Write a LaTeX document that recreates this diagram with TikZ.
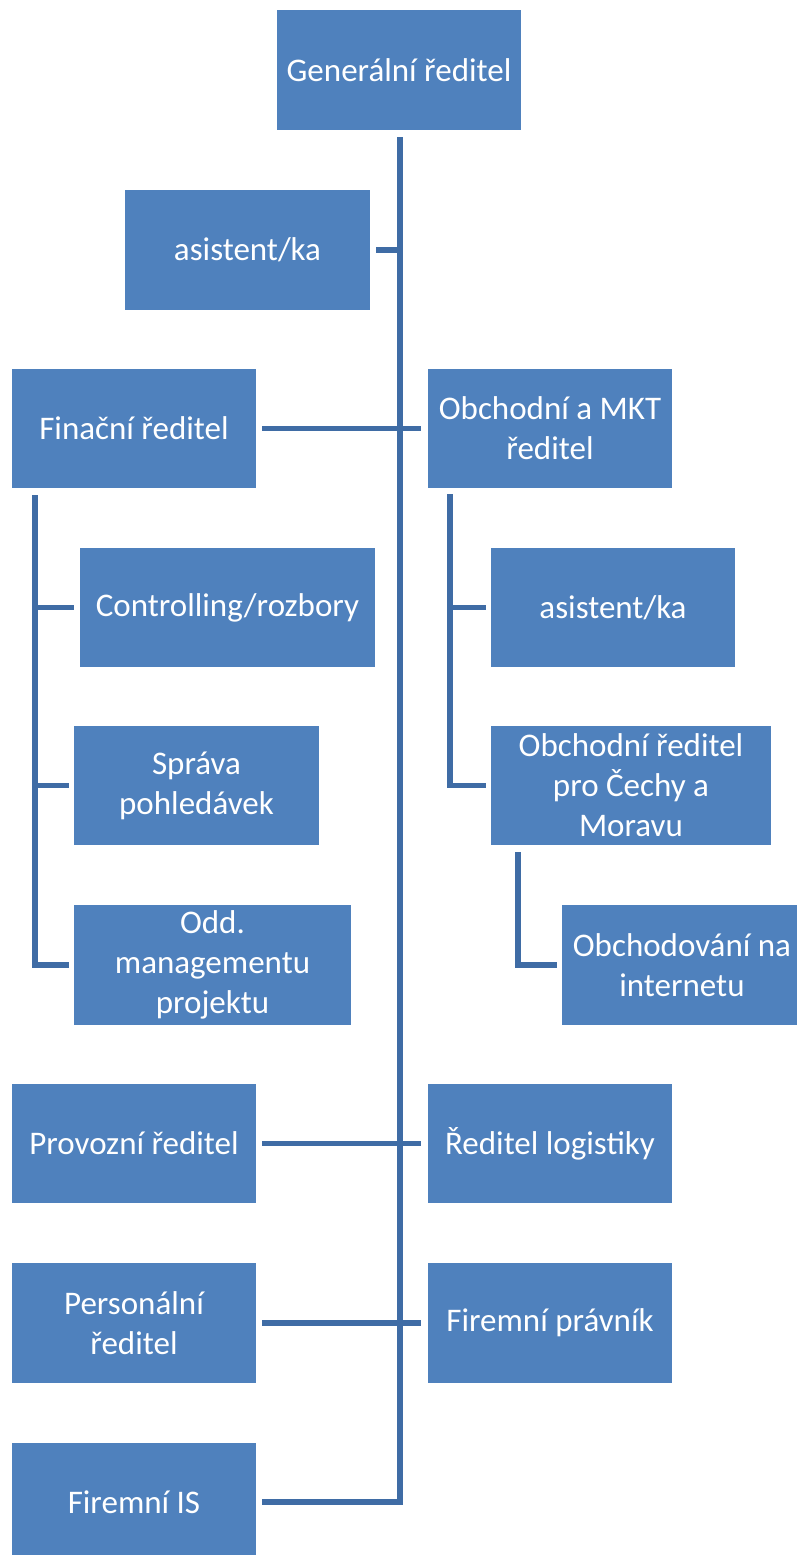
\documentclass[tikz,border=0pt]{standalone}
\usepackage{fontspec}
\setmainfont{Carlito}
\usetikzlibrary{calc}
\definecolor{boxblue}{HTML}{4F81BD}
\definecolor{lineblue}{HTML}{3F6CA5}
\tikzset{
  box/.style={rectangle, fill=boxblue, draw=none, text=white, inner sep=0pt,
    minimum height=119, align=center,
    font=\fontsize{33pt}{40pt}\selectfont},
  conn/.style={draw=lineblue, line width=5.5pt, line join=miter, line cap=butt}
}
\begin{document}
\begin{tikzpicture}[x=1pt,y=-1pt]
\useasboundingbox (0,0) rectangle (797,1555);
\fill[white] (0,0) rectangle (797,1555);
\begin{scope}
\clip (0,0) rectangle (797,1555);
\node[box, minimum width=244, minimum height=120] (gen) at (399,70) {Generální ředitel};
\node[box, minimum width=245, minimum height=120] (asst1) at (247.5,250) {asistent/ka};
\node[box, minimum width=244] (fin) at (134,428.5) {Finační ředitel};
\node[box, minimum width=244] (obch) at (550,428.5) {Obchodní a MKT\\ředitel};
\node[box, minimum width=295] (ctrl) at (227.5,607.5) {Controlling/rozbory};
\node[box, minimum width=245] (sprava) at (196.5,785.5) {Správa\\pohledávek};
\node[box, minimum width=277, minimum height=120] (odd) at (212.5,965) {Odd.\\managementu\\projektu};
\node[box, minimum width=244] (asst2) at (613,607.5) {asistent/ka};
\node[box, minimum width=280] (obchcz) at (631,785.5) {Obchodní ředitel\\pro Čechy a\\Moravu};
\node[box, minimum width=240, minimum height=120] (intern) at (682,965) {Obchodování na\\internetu};
\node[box, minimum width=244] (prov) at (134,1143.5) {Provozní ředitel};
\node[box, minimum width=244] (log) at (550,1143.5) {Ředitel logistiky};
\node[box, minimum width=244, minimum height=120] (pers) at (134,1323) {Personální\\ředitel};
\node[box, minimum width=244, minimum height=120] (prav) at (550,1323) {Firemní právník};
\node[box, minimum width=244, minimum height=118] (is) at (134,1502) {Firemní IS};
\end{scope}

% main trunk
\coordinate (mtop) at ($(gen.south)+(1,7)$);
\draw[conn, shorten <=6pt] (is.east) -| (mtop);
\draw[conn, shorten <=6pt] (asst1.east) -- (asst1.east -| mtop);
\draw[conn, shorten <=6pt, shorten >=7pt] (fin.east) -- (obch.west);
\draw[conn, shorten <=6pt, shorten >=7pt] (prov.east) -- (log.west);
\draw[conn, shorten <=6pt, shorten >=7pt] (pers.east) -- (prav.west);

% finance subtree
\coordinate (fv) at ($(fin.south west)+(23,7)$);
\draw[conn, shorten >=5pt] (fv) |- (odd.west);
\draw[conn, shorten <=6pt] (ctrl.west) -- (ctrl.west -| fv);
\draw[conn, shorten <=5pt] (sprava.west) -- (sprava.west -| fv);

% sales subtree
\coordinate (ov) at ($(obch.south west)+(22,6)$);
\draw[conn, shorten >=5pt] (ov) |- (obchcz.west);
\draw[conn, shorten <=5pt] (asst2.west) -- (asst2.west -| ov);

\coordinate (cv) at ($(obchcz.south west)+(27,7)$);
\draw[conn, shorten >=5pt] (cv) |- (intern.west);
\end{tikzpicture}
\end{document}
